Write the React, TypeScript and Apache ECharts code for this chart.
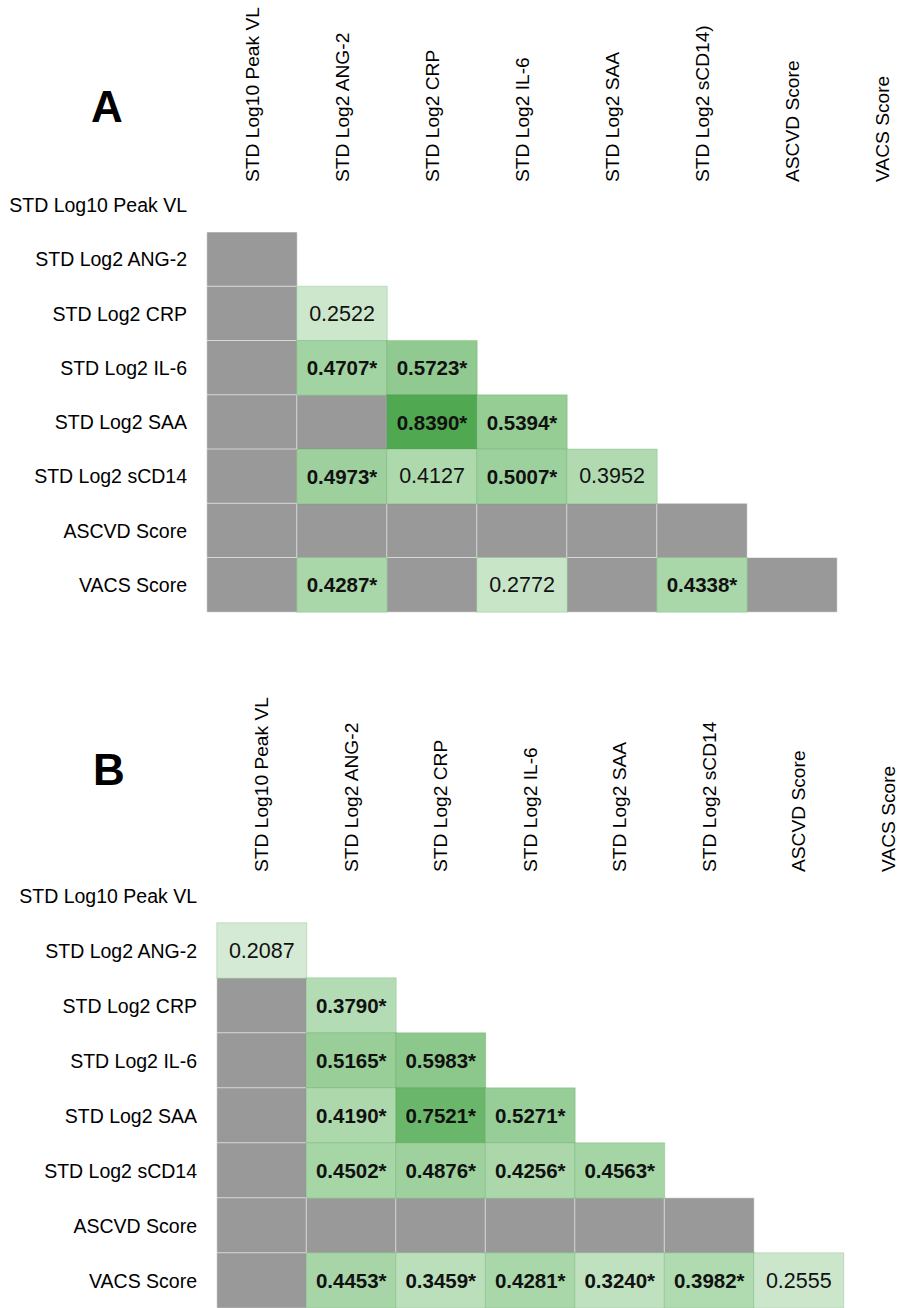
import React, { useEffect, useRef } from "react";
import * as echarts from "echarts";

// ---------- data ----------
const rowLabels = [
  "STD Log10 Peak VL",
  "STD Log2 ANG-2",
  "STD Log2 CRP",
  "STD Log2 IL-6",
  "STD Log2 SAA",
  "STD Log2 sCD14",
  "ASCVD Score",
  "VACS Score",
];
const colLabelsA = [
  "STD Log10 Peak VL",
  "STD Log2 ANG-2",
  "STD Log2 CRP",
  "STD Log2 IL-6",
  "STD Log2 SAA",
  "STD Log2 sCD14)",
  "ASCVD Score",
  "VACS Score",
];
const colLabelsB = [
  "STD Log10 Peak VL",
  "STD Log2 ANG-2",
  "STD Log2 CRP",
  "STD Log2 IL-6",
  "STD Log2 SAA",
  "STD Log2 sCD14",
  "ASCVD Score",
  "VACS Score",
];

// [row, col, correlation, significant]
const corrA: [number, number, number, boolean][] = [
  [2, 1, 0.2522, false],
  [3, 1, 0.4707, true],
  [3, 2, 0.5723, true],
  [4, 2, 0.839, true],
  [4, 3, 0.5394, true],
  [5, 1, 0.4973, true],
  [5, 2, 0.4127, false],
  [5, 3, 0.5007, true],
  [5, 4, 0.3952, false],
  [7, 1, 0.4287, true],
  [7, 3, 0.2772, false],
  [7, 5, 0.4338, true],
];
// [row, col] cells shown in grey (not included)
const greyA: [number, number][] = [
  [1, 0], [2, 0], [3, 0], [4, 0], [4, 1], [5, 0],
  [6, 0], [6, 1], [6, 2], [6, 3], [6, 4], [6, 5],
  [7, 0], [7, 2], [7, 4], [7, 6],
];

const corrB: [number, number, number, boolean][] = [
  [1, 0, 0.2087, false],
  [2, 1, 0.379, true],
  [3, 1, 0.5165, true],
  [3, 2, 0.5983, true],
  [4, 1, 0.419, true],
  [4, 2, 0.7521, true],
  [4, 3, 0.5271, true],
  [5, 1, 0.4502, true],
  [5, 2, 0.4876, true],
  [5, 3, 0.4256, true],
  [5, 4, 0.4563, true],
  [7, 1, 0.4453, true],
  [7, 2, 0.3459, true],
  [7, 3, 0.4281, true],
  [7, 4, 0.324, true],
  [7, 5, 0.3982, true],
  [7, 6, 0.2555, false],
];
const greyB: [number, number][] = [
  [2, 0], [3, 0], [4, 0], [5, 0],
  [6, 0], [6, 1], [6, 2], [6, 3], [6, 4], [6, 5],
  [7, 0],
];

// ---------- chart ----------
const FONT = "'Liberation Sans', Arial, sans-serif";

function corrData(list: [number, number, number, boolean][]) {
  return list.map(([r, c, v, sig]) => ({
    value: [c, r, v],
    label: {
      formatter: v.toFixed(4) + (sig ? "*" : ""),
      fontWeight: sig ? "bold" : "normal",
      fontSize: sig ? 20.5 : 21.5,
    },
  }));
}
function greyData(list: [number, number][]) {
  return list.map(([r, c]) => [c, r, 0]);
}

function axesFor(gridIndex: number, cols: string[]) {
  const x = {
    type: "category",
    gridIndex,
    data: cols,
    position: "top",
    axisLine: { show: false },
    axisTick: { show: false },
    splitLine: { show: false },
    axisLabel: {
      rotate: -90,
      interval: 0,
      fontSize: 19.2,
      color: "#000",
      fontFamily: FONT,
      margin: -4,
    },
  };
  const y = {
    type: "category",
    gridIndex,
    data: rowLabels,
    inverse: true,
    axisLine: { show: false },
    axisTick: { show: false },
    splitLine: { show: false },
    axisLabel: {
      interval: 0,
      fontSize: 19.5,
      color: "#000",
      fontFamily: FONT,
      margin: 20,
    },
  };
  return { x, y };
}

export default function App() {
  const ref = useRef<HTMLDivElement>(null);
  useEffect(() => {
    if (!ref.current) return;
    const chart = echarts.init(ref.current, null, { renderer: "svg" });
    const a = axesFor(0, colLabelsA);
    const b = axesFor(1, colLabelsB);
    const greyStyle = {
      borderColor: "rgba(255,255,255,0.55)",
      borderWidth: 1,
    };
    const greenStyle = {
      borderColor: "rgba(70,150,70,0.22)",
      borderWidth: 1,
    };
    const labelBase = {
      show: true,
      fontSize: 21,
      color: "#111",
      fontFamily: FONT,
    };
    chart.setOption({
      animation: false,
      backgroundColor: "#fff",
      title: [
        {
          text: "A",
          left: 86,
          top: 79,
          textStyle: { fontSize: 44, fontWeight: "bold", color: "#000", fontFamily: FONT },
        },
        {
          text: "B",
          left: 88,
          top: 742,
          textStyle: { fontSize: 44, fontWeight: "bold", color: "#000", fontFamily: FONT },
        },
      ],
      grid: [
        { left: 207, top: 178, width: 720, height: 434, outerBoundsMode: "none", containLabel: false },
        { left: 217, top: 868, width: 716, height: 440, outerBoundsMode: "none", containLabel: false },
      ],
      xAxis: [a.x, b.x],
      yAxis: [a.y, b.y],
      visualMap: [
        {
          show: false,
          type: "continuous",
          min: 0.2,
          max: 0.84,
          dimension: 2,
          seriesIndex: [1, 3],
          inRange: { color: ["#d6ebd6", "#b8deb8", "#98ce98", "#80c280", "#50a850"] },
        },
        {
          show: false,
          type: "continuous",
          min: -1,
          max: 1,
          dimension: 2,
          seriesIndex: [0, 2],
          inRange: { color: ["#999999", "#999999"] },
        },
      ],
      series: [
        {
          type: "heatmap",
          xAxisIndex: 0,
          yAxisIndex: 0,
          data: greyData(greyA),
          itemStyle: greyStyle,
          label: { show: false },
          emphasis: { disabled: true },
        },
        {
          type: "heatmap",
          xAxisIndex: 0,
          yAxisIndex: 0,
          data: corrData(corrA),
          itemStyle: greenStyle,
          label: labelBase,
          emphasis: { disabled: true },
        },
        {
          type: "heatmap",
          xAxisIndex: 1,
          yAxisIndex: 1,
          data: greyData(greyB),
          itemStyle: greyStyle,
          label: { show: false },
          emphasis: { disabled: true },
        },
        {
          type: "heatmap",
          xAxisIndex: 1,
          yAxisIndex: 1,
          data: corrData(corrB),
          itemStyle: greenStyle,
          label: labelBase,
          emphasis: { disabled: true },
        },
      ],
    });
    return () => chart.dispose();
  }, []);
  return (
    <div
      ref={ref}
      style={{ position: "absolute", left: 0, top: 0, width: 910, height: 1308 }}
    />
  );
}
